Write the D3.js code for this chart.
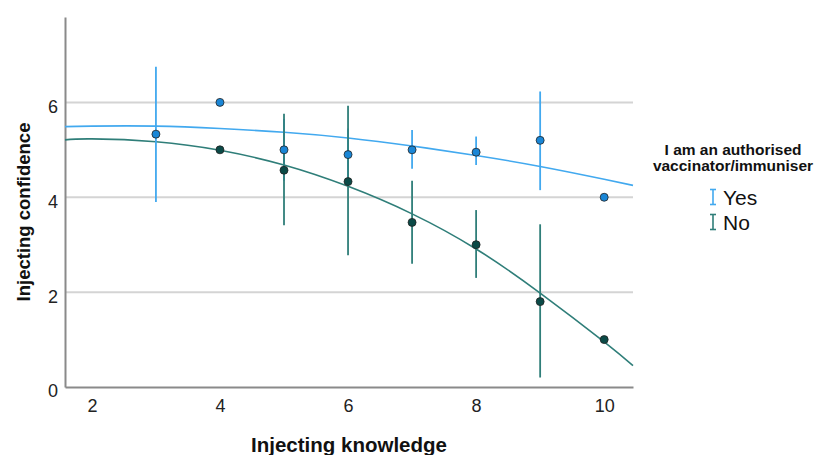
<!DOCTYPE html>
<meta charset="utf-8">
<style>
body { margin: 0; background: #fff; font-family: "Liberation Sans", Arial, sans-serif; }
.tick text { font-size: 18px; fill: #222; }
</style>
<body>
<div id="chart"></div>
<script src="https://cdn.jsdelivr.net/npm/d3@7"></script>
<script>

// observed means and 95% CI (x = knowledge score)
var yesX = [3, 4, 5, 6, 7, 8, 9, 10];
var yesMean = [5.33, 6.0, 5.0, 4.9, 5.0, 4.95, 5.2, 4.0];
var yesLow = [3.9, null, 4.35, 4.35, 4.6, 4.68, 4.15, null];
var yesHigh = [6.75, null, 5.65, 5.45, 5.42, 5.28, 6.23, null];

var noX = [4, 5, 6, 7, 8, 9, 10];
var noMean = [5.0, 4.57, 4.33, 3.47, 3.0, 1.8, 1.0];
var noLow = [null, 3.41, 2.78, 2.6, 2.3, 0.2, null];
var noHigh = [null, 5.76, 5.93, 4.35, 3.73, 3.43, null];

// fitted curves
var fitX = [1.58, 2, 3, 4, 5, 6, 7, 8, 9, 10, 10.45];
var yesFit = [5.49, 5.5, 5.5, 5.45, 5.37, 5.25, 5.08, 4.88, 4.65, 4.38, 4.25];
var noFit = [5.21, 5.23, 5.17, 4.99, 4.68, 4.23, 3.65, 2.91, 1.98, 0.95, 0.45];

var xTicks = [2, 4, 6, 8, 10];
var yTicks = [0, 2, 4, 6];

var blue = "#42a9ef", blueDot = "#1a86d6";
var teal = "#2f7e79", tealDot = "#0b4a47";

var width = 818, height = 455;
var svg = d3.select("#chart").append("svg")
  .attr("width", width)
  .attr("height", height);

var x = d3.scaleLinear().domain([1.58, 10.45]).range([65, 633]);
var y = d3.scaleLinear().domain([0, 7.8]).range([387, 17]);

// gridlines
svg.append("g").selectAll("line")
  .data(yTicks.filter(function(d){ return d > 0; }))
  .enter().append("line")
  .attr("x1", 65).attr("x2", 633)
  .attr("y1", function(d){ return y(d); })
  .attr("y2", function(d){ return y(d); })
  .style("stroke", "#d4d4d4")
  .style("stroke-width", 2);

// axes
var xAxis = svg.append("g")
  .attr("transform", "translate(0," + y(0) + ")")
  .call(d3.axisBottom(x).tickValues(xTicks).tickSize(0).tickPadding(12));
xAxis.select(".domain").style("stroke", "#8a8a8a").style("stroke-width", 2);

var yAxis = svg.append("g")
  .attr("transform", "translate(" + x.range()[0] + ",0)")
  .call(d3.axisLeft(y).tickValues(yTicks).tickSize(0).tickPadding(7));
yAxis.select(".domain").style("stroke", "#8a8a8a").style("stroke-width", 2);
yAxis.selectAll(".tick text").attr("dy", "0.55em");

svg.selectAll(".tick text").style("font-family", "'Liberation Sans', Arial, sans-serif");

// axis titles
svg.append("text")
  .attr("x", 349).attr("y", 452)
  .attr("text-anchor", "middle")
  .style("font-size", "20.5px").style("font-weight", "bold").style("fill", "#111")
  .text("Injecting knowledge");

svg.append("text")
  .attr("transform", "translate(30,212) rotate(-90)")
  .attr("text-anchor", "middle")
  .style("font-size", "18.5px").style("font-weight", "bold").style("fill", "#111")
  .text("Injecting confidence");

// fit lines
var line = d3.line().curve(d3.curveNatural)
  .x(function(d){ return x(d[0]); })
  .y(function(d){ return y(d[1]); });

svg.append("path")
  .attr("d", line(d3.zip(fitX, yesFit)))
  .style("fill", "none").style("stroke", blue).style("stroke-width", 1.6);
svg.append("path")
  .attr("d", line(d3.zip(fitX, noFit)))
  .style("fill", "none").style("stroke", teal).style("stroke-width", 1.6);

function drawBars(xs, lows, highs, lineColor){
  var g = svg.append("g");
  xs.forEach(function(v, i){
    if (lows[i] !== null) {
      g.append("line")
        .attr("x1", x(v)).attr("x2", x(v))
        .attr("y1", y(lows[i])).attr("y2", y(highs[i]))
        .style("stroke", lineColor).style("stroke-width", 1.8);
    }
  });
  return g;
}

function drawDots(xs, means, dotColor){
  svg.append("g").selectAll("circle")
    .data(d3.zip(xs, means))
    .enter().append("circle")
    .attr("cx", function(d){ return x(d[0]); })
    .attr("cy", function(d){ return y(d[1]); })
    .attr("r", 4)
    .style("fill", dotColor)
    .style("stroke", "#222")
    .style("stroke-width", 0.8);
}

drawBars(yesX, yesLow, yesHigh, blue);
drawBars(noX, noLow, noHigh, teal);
drawDots(yesX, yesMean, blueDot);
drawDots(noX, noMean, tealDot);

// legend
var leg = svg.append("g");
leg.append("text")
  .attr("x", 733).attr("y", 155)
  .attr("text-anchor", "middle")
  .style("font-size", "15.5px").style("font-weight", "bold").style("fill", "#111")
  .text("I am an authorised");
leg.append("text")
  .attr("x", 733).attr("y", 171)
  .attr("text-anchor", "middle")
  .style("font-size", "15.5px").style("font-weight", "bold").style("fill", "#111")
  .text("vaccinator/immuniser");

var legItems = [["Yes", blue], ["No", teal]];
legItems.forEach(function(it, i){
  var cy = 197 + i * 25;
  var gx = 713;
  leg.append("line").attr("x1", gx).attr("x2", gx).attr("y1", cy - 7.5).attr("y2", cy + 7.5)
    .style("stroke", it[1]).style("stroke-width", 1.6);
  leg.append("line").attr("x1", gx - 3).attr("x2", gx + 3).attr("y1", cy - 7.5).attr("y2", cy - 7.5)
    .style("stroke", it[1]).style("stroke-width", 1.6);
  leg.append("line").attr("x1", gx - 3).attr("x2", gx + 3).attr("y1", cy + 7.5).attr("y2", cy + 7.5)
    .style("stroke", it[1]).style("stroke-width", 1.6);
  leg.append("text")
    .attr("x", gx + 10).attr("y", cy + 8)
    .style("font-size", "21px").style("fill", "#111")
    .text(it[0]);
});

</script>
</body>
